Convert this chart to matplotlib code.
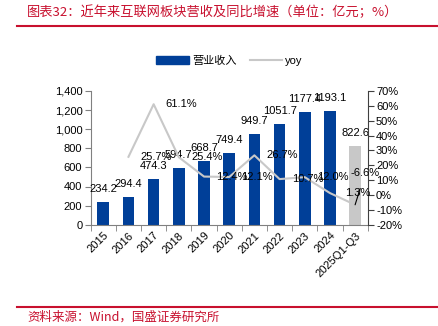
import matplotlib
matplotlib.use("Agg")
import matplotlib.pyplot as plt
from matplotlib.lines import Line2D
from matplotlib.ticker import FuncFormatter, MultipleLocator

plt.rcParams["font.family"] = ["Liberation Sans", "Noto Sans CJK SC"]

# data
categories = ["2015", "2016", "2017", "2018", "2019", "2020", "2021",
              "2022", "2023", "2024", "2025Q1-Q3"]
revenue = [234.2, 294.4, 474.3, 594.7, 668.7, 749.4, 949.7,
           1051.7, 1177.4, 1193.1, 822.6]
yoy_x = [1, 2, 3, 4, 5, 6, 7, 8, 9, 10]
yoy = [25.7, 61.1, 25.4, 12.4, 12.1, 26.7, 10.7, 12.0, 1.3, -6.6]

title = "图表32：近年来互联网板块营收及同比增速（单位：亿元；%）"
source = "资料来源：Wind，国盛证券研究所"

red = "#C8102E"
blue = "#003F98"
grey = "#C8C8C8"

W, H = 439, 326
fig = plt.figure(figsize=(W / 100, H / 100), dpi=100)
ax = fig.add_axes([90.7 / W, 1 - 224.7 / H, 277 / W, 133.7 / H])
ax2 = ax.twinx()

x = list(range(len(categories)))
colors = [blue] * (len(categories) - 1) + [grey]
ax.bar(x, revenue, width=0.46, color=colors, zorder=2)
for xi, v in zip(x, revenue):
    ax.annotate(f"{v:.1f}", xy=(xi, v), xytext=(0, 8), textcoords="offset pixels",
                ha="center", va="bottom", fontsize=8, color="black")

ax.set_xlim(-0.5, len(categories) - 0.5)
ax.set_ylim(0, 1400)
ax.yaxis.set_major_locator(MultipleLocator(200))
ax.yaxis.set_major_formatter(FuncFormatter(lambda v, p: f"{int(v):,}"))
ax.set_xticks(x)
ax.set_xticklabels(categories, rotation=45, ha="right", rotation_mode="anchor",
                   fontsize=8)
ax.set_xticks([i + 0.5 for i in range(-1, len(categories))], minor=True)
ax.tick_params(axis="x", which="major", length=0, pad=4)
ax.tick_params(axis="x", which="minor", length=4, color="#808080")
ax.tick_params(axis="y", labelsize=8, length=4, color="#808080", pad=2)
for s in ["top", "right"]:
    ax.spines[s].set_visible(False)
ax.spines["left"].set_color("#808080")
ax.spines["bottom"].set_color("#808080")

ax2.plot(yoy_x, yoy, color=grey, linewidth=1.5, zorder=3)
ax2.set_ylim(-20, 70)
ax2.yaxis.set_major_locator(MultipleLocator(10))
ax2.yaxis.set_major_formatter(FuncFormatter(lambda v, p: f"{int(round(v))}%"))
ax2.tick_params(axis="y", labelsize=8, length=4, color="#404040", pad=2)
for s in ["top", "left", "bottom"]:
    ax2.spines[s].set_visible(False)
ax2.spines["right"].set_color("#404040")

for xi, v in zip(yoy_x[:-1], yoy[:-1]):
    ax2.annotate(f"{v:.1f}%", xy=(xi, v), xytext=(28, 0), textcoords="offset pixels",
                 ha="center", va="center", fontsize=8, color="black")
ax2.annotate(f"{yoy[-1]:.1f}%", xy=(yoy_x[-1], yoy[-1]), xytext=(10, 32),
             textcoords="offset pixels", ha="center", va="center", fontsize=8,
             color="black",
             arrowprops=dict(arrowstyle="-", color="black", lw=0.8,
                             shrinkA=6, shrinkB=0))

handles = [plt.Rectangle((0, 0), 1, 1, color=blue),
           Line2D([0], [0], color=grey, linewidth=1.5)]
fig.legend(handles, ["营业收入", "yoy"], loc="center", bbox_to_anchor=(0.523, 1 - 61 / H),
           ncol=2, frameon=False, fontsize=8, handlelength=2.9, handleheight=0.65,
           columnspacing=1.2, handletextpad=0.3)

fig.text(27 / W, 1 - 12 / H, title, color=red, fontsize=9.5, ha="left", va="center",
         family=["Noto Sans CJK SC"])
fig.add_artist(Line2D([17 / W, 437 / W], [1 - 26 / H, 1 - 26 / H], color=red, lw=1.5))
fig.add_artist(Line2D([17 / W, 437 / W], [1 - 306.7 / H, 1 - 306.7 / H], color=red, lw=1.5))
fig.text(27 / W, 1 - 317 / H, source, color=red, fontsize=9, ha="left", va="center",
         family=["Noto Sans CJK SC", "Liberation Sans"])

fig.savefig("out.png", dpi=100)
